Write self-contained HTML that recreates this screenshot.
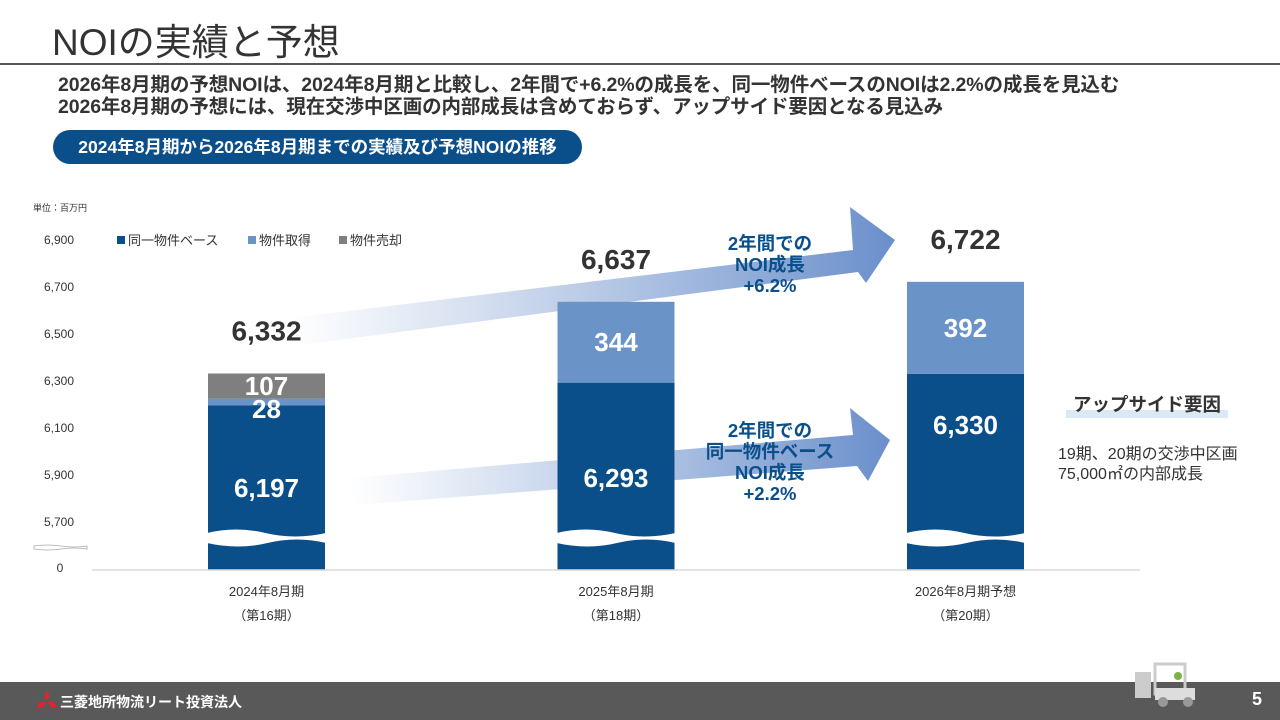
<!DOCTYPE html>
<html><head><meta charset="utf-8">
<style>
body{margin:0;width:1280px;height:720px;overflow:hidden;background:#fff;font-family:"Liberation Sans","Noto Sans CJK JP",sans-serif;position:relative}
.abs{position:absolute}
</style></head><body>
<div class="abs" style="left:52px;top:12px;font-size:37px;color:#333;">NOIの実績と予想</div>
<div class="abs" style="left:0;top:63px;width:1280px;height:2px;background:#555"></div>
<div class="abs" style="left:58px;top:74px;font-size:19.5px;font-weight:bold;color:#333;line-height:22px;white-space:nowrap;letter-spacing:-0.1px">2026年8月期の予想NOIは、2024年8月期と比較し、2年間で+6.2%の成長を、同一物件ベースのNOIは2.2%の成長を見込む<br>2026年8月期の予想には、現在交渉中区画の内部成長は含めておらず、アップサイド要因となる見込み</div>
<div class="abs" style="left:53px;top:130px;width:529px;height:34px;border-radius:17px;background:#0b4f8a;color:#fff;font-size:17.5px;font-weight:bold;text-align:center;line-height:34px">2024年8月期から2026年8月期までの実績及び予想NOIの推移</div>

<svg class="abs" style="left:0;top:0" width="1280" height="720" id="chart">
<defs>
<linearGradient id="ga" x1="0" x2="1" y1="0" y2="0"><stop offset="0" stop-color="#7a9bd0" stop-opacity="0"/><stop offset="1" stop-color="#6a8fcb"/></linearGradient>
</defs>
<text x="33" y="211" font-size="9" fill="#333">単位：百万円</text>
<polygon fill="url(#ga)" points="290,318 853,250 850,207 895,240 866,283 858,272 300,345"/>
<polygon fill="url(#ga)" points="350,478 853,435 850,408 890,440 868,481 857,466 355,505"/>
<g id="marks"></g>
<line x1="92" y1="570" x2="1140" y2="570" stroke="#d9d9d9" stroke-width="1.5"/>
<path d="M34,546 q13,-2 27,0 t26,0 v3 q-13,-2 -26,0 t-27,0z" fill="#fff" stroke="#aaa" stroke-width="0.8"/>
<g font-size="13" fill="#333">
<rect x="117" y="236" width="8" height="8" fill="#0b4f8a"/><text x="128" y="245">同一物件ベース</text>
<rect x="248" y="236" width="8" height="8" fill="#6a93c8"/><text x="259" y="245">物件取得</text>
<rect x="339" y="236" width="8" height="8" fill="#7f7f7f"/><text x="350" y="245">物件売却</text>
</g>
<g font-size="18.5" font-weight="bold" fill="#0b4f8a" text-anchor="middle">
<text x="770" y="250"><tspan x="770">2年間での</tspan><tspan x="770" dy="21">NOI成長</tspan><tspan x="770" dy="21">+6.2%</tspan></text>
<text x="770" y="437"><tspan x="770">2年間での</tspan><tspan x="770" dy="21">同一物件ベース</tspan><tspan x="770" dy="21">NOI成長</tspan><tspan x="770" dy="21">+2.2%</tspan></text>
</g>
<rect x="1066" y="410" width="162" height="8" fill="#dbe9f7"/>
<text x="1147" y="411" font-size="18.5" font-weight="bold" fill="#333" text-anchor="middle">アップサイド要因</text>
<text x="1058" y="459" font-size="16" fill="#333"><tspan x="1058">19期、20期の交渉中区画</tspan><tspan x="1058" dy="20">75,000㎡の内部成長</tspan></text>
</svg>

<div class="abs" style="left:0;top:682px;width:1280px;height:38px;background:#595959"></div>
<svg class="abs" style="left:36px;top:691px" width="22" height="20"><polygon points="11,0 14,5 11,10 8,5" fill="#e0262c"/><polygon points="10,11 7,16 1,16 4,11" fill="#e0262c"/><polygon points="12,11 15,16 21,16 18,11" fill="#e0262c"/></svg>
<div class="abs" style="left:60px;top:692px;color:#fff;font-size:14px;font-weight:bold">三菱地所物流リート投資法人</div>
<div class="abs" style="left:1252px;top:689px;color:#fff;font-size:18px;font-weight:bold">5</div>
<svg class="abs" style="left:1133px;top:660px" width="70" height="50"><rect x="2" y="12" width="16" height="26" fill="#ccc"/><rect x="22" y="4" width="30" height="30" fill="none" stroke="#ccc" stroke-width="3"/><rect x="22" y="28" width="40" height="12" fill="#ddd"/><circle cx="30" cy="42" r="5" fill="#999"/><circle cx="55" cy="42" r="5" fill="#999"/><circle cx="45" cy="16" r="4" fill="#7cb342"/></svg>

<script>
const categories=["2024年8月期","2025年8月期","2026年8月期予想"];
const periods=["（第16期）","（第18期）","（第20期）"];
const sameStore=[6197,6293,6330];
const acquired=[28,344,392];
const sold=[107,0,0];
const totals=[6332,6637,6722];
const ticks=[6900,6700,6500,6300,6100,5900,5700];
const NS="http://www.w3.org/2000/svg";
const g=document.getElementById('marks');
const svg=document.getElementById('chart');
function y(v){return 240+(6900-v)*0.235;}
function xc(i){return 266.5+i*349.5;}
const base=570,bw=117;
const ssLabelY=[497,487,434];
function mk(tag,attrs,parent){const e=document.createElementNS(NS,tag);for(const k in attrs)e.setAttribute(k,attrs[k]);(parent||g).appendChild(e);return e;}
ticks.forEach(t=>{
  const e=mk('text',{x:74,y:y(t)+4,'font-size':12,fill:'#333','text-anchor':'end'},svg);
  
  
  e.textContent=t.toLocaleString('en-US');
});
const z=mk('text',{x:60,y:572,'font-size':12,fill:'#333','text-anchor':'middle'},svg);


z.textContent='0';
categories.forEach((c,i)=>{
  const x0=xc(i)-bw/2;
  const ss=mk('rect',{x:x0,y:y(sameStore[i]),width:bw,height:base-y(sameStore[i]),fill:'#0b4f8a'});
  
  
  let top=sameStore[i];
  if(acquired[i]>0){
    const a=mk('rect',{x:x0,y:y(top+acquired[i]),width:bw,height:y(top)-y(top+acquired[i]),fill:'#6a93c8'});
    
    
    top+=acquired[i];
  }
  if(sold[i]>0){
    const s=mk('rect',{x:x0,y:y(top+sold[i]),width:bw,height:y(top)-y(top+sold[i]),fill:'#7f7f7f'});
    
    
  }
  const w=mk('path',{d:`M${x0-1},533 q${bw/4},-7 ${bw/2},0 t${bw/2+2},0 v10 q-${bw/4},-7 -${bw/2},0 t-${bw/2+2},0z`,fill:'#fff'});
  
  
  const lbl=(txt,yy,name)=>{const t=mk('text',{x:xc(i),y:yy,'font-size':26,'font-weight':'bold',fill:'#fff','text-anchor':'middle'});
    
    
    t.textContent=txt;};
  lbl(sameStore[i].toLocaleString('en-US'),ssLabelY[i],'value-same-store');
  if(i==0){
    lbl(String(acquired[i]),418,'value-acquired');
    lbl(String(sold[i]),395,'value-sold');
  } else {
    lbl(String(acquired[i]),(y(sameStore[i])+y(sameStore[i]+acquired[i]))/2+9,'value-acquired');
  }
  const tt=mk('text',{x:xc(i),y:y(totals[i])-33,'font-size':28,'font-weight':'bold',fill:'#333','text-anchor':'middle'});
  
  
  tt.textContent=totals[i].toLocaleString('en-US');
  const cl=mk('text',{x:xc(i),y:596,'font-size':13,fill:'#333','text-anchor':'middle'});
  
  
  cl.textContent=c;
  const pl=mk('text',{x:xc(i),y:620,'font-size':13,fill:'#333','text-anchor':'middle'});
  
  
  pl.textContent=periods[i];
});
</script>
</body></html>
